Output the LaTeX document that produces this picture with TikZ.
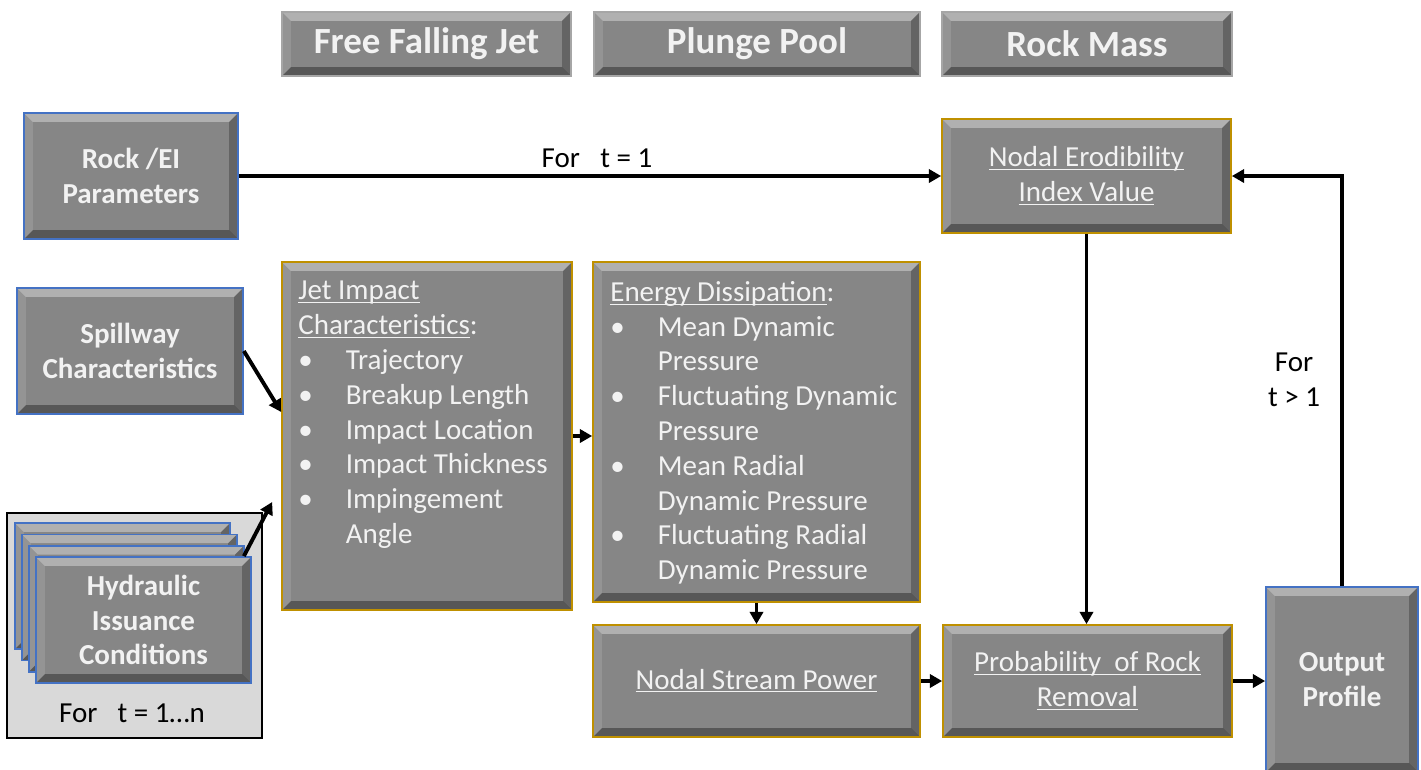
\documentclass[tikz,border=0pt]{standalone}
\usepackage{fontspec}
\setmainfont{Carlito}
\usetikzlibrary{arrows.meta}

\definecolor{boxgray}{RGB}{134,134,134}
\definecolor{edgeblue}{RGB}{68,114,196}
\definecolor{edgegold}{RGB}{191,144,0}
\definecolor{panel}{RGB}{217,217,217}
\definecolor{txtwhite}{RGB}{242,242,242}

\newcommand{\itm}{\makebox[27pt][l]{\textbullet}}
\newcommand{\itmsp}{\makebox[27pt][l]{}}
\newcommand{\ul}[1]{\underline{\smash{#1}}\vphantom{#1}}

\tikzset{
  bevel/.style={path picture={
    \fill[white,opacity=.35] (path picture bounding box.north west) -- (path picture bounding box.north east)
      -- ([shift={(-#1,-#1)}]path picture bounding box.north east) -- ([shift={(#1,-#1)}]path picture bounding box.north west) -- cycle;
    \fill[white,opacity=.12] (path picture bounding box.north west) -- ([shift={(#1,-#1)}]path picture bounding box.north west)
      -- ([shift={(#1,#1)}]path picture bounding box.south west) -- (path picture bounding box.south west) -- cycle;
    \fill[black,opacity=.35] (path picture bounding box.south west) -- ([shift={(#1,#1)}]path picture bounding box.south west)
      -- ([shift={(-#1,#1)}]path picture bounding box.south east) -- (path picture bounding box.south east) -- cycle;
    \fill[black,opacity=.25] (path picture bounding box.north east) -- (path picture bounding box.south east)
      -- ([shift={(-#1,#1)}]path picture bounding box.south east) -- ([shift={(-#1,-#1)}]path picture bounding box.north east) -- cycle;
  }},
  bevel/.default=5pt
}

\begin{document}
\begin{tikzpicture}[x=0.02cm, y=-0.02cm,
  box/.style={rectangle, fill=boxgray, line width=1pt, bevel, inner sep=0pt, text=txtwhite, align=center,
    font=\fontsize{16.5}{19.8}\selectfont},
  bluebox/.style={box, draw=edgeblue, font=\fontsize{16.5}{19.8}\selectfont\bfseries},
  goldbox/.style={box, draw=edgegold},
  headbox/.style={box, draw=gray!70, font=\fontsize{21}{25}\selectfont\bfseries},
  flow/.style={line width=2.2pt, -{Triangle[length=7pt,width=7.5pt]}},
  lbl/.style={font=\fontsize{16.5}{19.8}\selectfont, inner sep=0pt, align=center},
  listtxt/.style={lbl, text=txtwhite, align=left, anchor=north west}]
\useasboundingbox (0,0) rectangle (1421,769);

% column headers
\node[headbox, minimum width=5.78cm, minimum height=1.28cm] (hJet) at (426.5,44) {Free Falling Jet};
\node[headbox, minimum width=6.52cm, minimum height=1.28cm] (hPool) at (757,44) {Plunge Pool};
\node[headbox, minimum width=5.8cm, minimum height=1.28cm] (hRock) at (1087,44) {Rock Mass};

% inputs
\node[bluebox, minimum width=4.28cm, minimum height=2.52cm] (rock) at (131,176) {Rock /EI\\Parameters};
\node[bluebox, minimum width=4.52cm, minimum height=2.52cm] (spill) at (130,351) {Spillway\\Characteristics};

\node[draw=black, line width=1pt, fill=panel, minimum width=5.1cm, minimum height=4.5cm] (grp) at (134.5,625.5) {};
\foreach \k in {3,2,1}
  \node[bluebox, minimum width=4.3cm, minimum height=2.52cm] (card\k) at ({143.5-7*\k},{620-11.3*\k}) {};
\node[bluebox, minimum width=4.3cm, minimum height=2.52cm] (hydro) at (143.5,620) {Hydraulic\\Issuance\\Conditions};
\node[lbl] (tRange) at (132,713) {For\hspace{0.7em}t = 1…n};

% free falling jet / plunge pool
\node[goldbox, minimum width=5.8cm, minimum height=6.96cm] (jet) at (427,436) {};
\node[listtxt] (jetTxt) at (298,281) {\ul{Jet Impact}\\\ul{Characteristics}:\\\itm Trajectory\\\itm Breakup Length\\
  \itm Impact Location\\\itm Impact Thickness\\\itm Impingement\\\itmsp Angle};
\node[goldbox, minimum width=6.54cm, minimum height=6.8cm] (energy) at (756.5,432) {};
\node[listtxt] (enTxt) at (610,281) {\ul{Energy Dissipation}:\\\itm Mean Dynamic\\\itmsp Pressure\\\itm Fluctuating Dynamic\\
  \itmsp Pressure\\\itm Mean Radial\\\itmsp Dynamic Pressure\\\itm Fluctuating Radial\\\itmsp Dynamic Pressure};
\node[goldbox, minimum width=6.54cm, minimum height=2.24cm] (stream) at (756.5,681) {\ul{Nodal Stream Power}};

% rock mass
\node[goldbox, minimum width=5.78cm, minimum height=2.28cm] (erod) at (1086.5,176) {\ul{Nodal Erodibility}\\\ul{Index Value}};
\node[goldbox, minimum width=5.78cm, minimum height=2.24cm] (prob) at (1087.5,681) {\ul{Probability\ \ of Rock}\\\ul{Removal}};
\node[bluebox, minimum width=3.04cm, minimum height=3.7cm] (out) at (1342,679.5) {Output\\Profile};

% connectors
\draw[flow] (rock.east) -- (erod.west);
\node[lbl] (tOne) at (597,158) {For\hspace{0.7em}t = 1};
\draw[flow] (spill.east) -- ([yshift=0.48cm]jet.west);
\draw[flow] ([xshift=-0.16cm]hydro.north east) -- ([xshift=-0.18cm,yshift=-1.32cm]jet.west);
\draw[flow] (jet.east) -- (jet.east -| energy.west);
\draw[flow] (energy.south) -- (stream.north);
\draw[flow] (stream.east) -- (prob.west);
\draw[flow] (erod.south) -- (erod.south |- prob.north);
\draw[flow] (prob.east) -- (prob.east -| out.west);
\draw[flow] (out.north) |- (erod.east);
\node[lbl] (tMore) at (1294,380) {For\\t > 1};
\end{tikzpicture}
\end{document}
